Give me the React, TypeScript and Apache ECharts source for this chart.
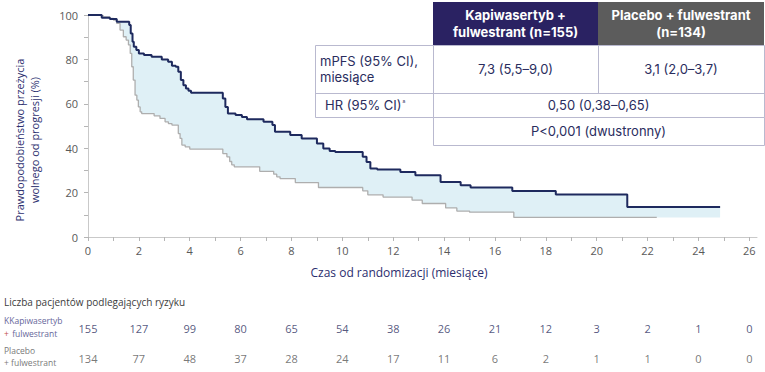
import React, { useEffect, useRef } from "react";
import * as echarts from "echarts";

// ---- data ----
const xLabelValues = [0, 2, 4, 6, 8, 10, 12, 14, 16, 18, 20, 22, 24, 26];
const xTickValues = [0, 1, 2, 3, 4, 5, 6, 7, 8, 9, 10, 11, 12, 13, 14, 15, 16, 17, 18, 19, 20, 21, 22, 23, 24, 25, 26];

// Kaplan-Meier steps [month, % progression-free]
const kapiCurve: [number, number][] = [
  [0, 100], [0.54, 98.8], [0.86, 98.2], [1.13, 97.0], [1.62, 95.5], [1.68, 91.7], [1.75, 88.0], [1.8, 85.7],
  [1.9, 84.2], [2.0, 82.7], [2.2, 82.0], [2.5, 81.2], [2.9, 80.0], [3.15, 78.9], [3.3, 77.1], [3.45, 76.7],
  [3.55, 74.4], [3.65, 70.7], [3.75, 68.4], [3.85, 66.9], [3.95, 65.9], [4.05, 65.0], [5.3, 62.4], [5.4, 58.6],
  [5.5, 55.6], [5.8, 54.9], [6.05, 54.1], [6.25, 53.0], [6.9, 51.9], [7.25, 50.4], [7.35, 47.4], [7.95, 45.9],
  [8.4, 44.4], [9.0, 42.1], [9.25, 39.9], [9.5, 38.7], [9.72, 38.3], [10.8, 36.1], [10.95, 33.8], [11.1, 30.8],
  [11.37, 30.4], [12.28, 29.3], [12.87, 27.8], [13.86, 24.8], [14.65, 23.3], [15.04, 22.3], [16.68, 20.7],
  [18.39, 19.1], [21.2, 13.5], [24.85, 13.5],
];

const placeboCurve: [number, number][] = [
  [0, 100], [0.3, 99.7], [0.6, 99.2], [0.86, 98.5], [1.0, 97.7], [1.13, 96.2], [1.26, 93.2], [1.39, 90.2],
  [1.5, 88.7], [1.59, 86.5], [1.66, 82.7], [1.72, 76.7], [1.78, 70.7], [1.85, 63.9], [1.92, 61.7], [1.98, 58.6],
  [2.05, 56.4], [2.11, 55.6], [2.6, 54.6], [2.83, 53.4], [3.03, 51.9], [3.16, 51.1], [3.3, 50.4], [3.55, 46.6],
  [3.62, 44.4], [3.69, 41.4], [3.82, 40.6], [4.0, 39.6], [5.3, 37.6], [5.46, 36.1], [5.57, 34.0], [5.65, 32.5],
  [5.75, 31.6], [6.75, 29.6], [7.3, 28.3], [7.42, 27.1], [7.55, 26.3], [8.15, 24.5], [9.06, 22.3], [10.8, 20.8],
  [11.0, 19.0], [11.6, 18.0], [12.74, 16.6], [13.14, 15.1], [14.06, 13.1], [14.5, 11.7], [15.0, 11.2],
  [16.74, 8.8], [22.36, 8.8],
];

const riskTimes = [0, 2, 4, 6, 8, 10, 12, 14, 16, 18, 20, 22, 24, 26];
const kapiAtRisk = [155, 127, 99, 80, 65, 54, 38, 26, 21, 12, 3, 2, 1, 0];
const placeboAtRisk = [134, 77, 48, 37, 28, 24, 17, 11, 6, 2, 1, 1, 0, 0];

const tableHeaders = ["Kapiwasertyb +\nfulwestrant (n=155)", "Placebo + fulwestrant\n(n=134)"];
const mpfsLabel = "mPFS (95% CI),\nmiesiące";
const mpfsValues = ["7,3 (5,5–9,0)", "3,1 (2,0–3,7)"];
const hrLabel = "HR (95% CI)";
const hrValue = "0,50 (0,38–0,65)";
const pValue = "P<0,001 (dwustronny)";

// ---- helpers ----
function stepPoints(curve: [number, number][], end: number): number[][] {
  const pts: number[][] = [];
  for (let i = 0; i < curve.length; i++) {
    const [t, s] = curve[i];
    if (t > end) break;
    pts.push([t, s]);
    const nt = i + 1 < curve.length ? Math.min(curve[i + 1][0], end) : end;
    pts.push([nt, s]);
  }
  return pts;
}

const fillEnd = kapiCurve[kapiCurve.length - 1][0];
const fillPolygon = [
  ...stepPoints(kapiCurve, fillEnd),
  ...stepPoints(placeboCurve, fillEnd).reverse(),
];

const NAVY = "#1e2a5e";
const TXT = "#2a2d5e";
const BORDER = "#b9b9cf";
const FONT = "'Open Sans', 'Noto Sans', sans-serif";
const TFONT = "Inter, 'Noto Sans', sans-serif";

export default function App() {
  const ref = useRef<HTMLDivElement>(null);
  useEffect(() => {
    if (!ref.current) return;
    const chart = echarts.init(ref.current, undefined, { renderer: "svg" });

    const tLeft = 315, c1 = 433, c2 = 598, c3 = 764;
    const r0 = 2, r1 = 45, r2 = 93, r3 = 117, r4 = 145;

    const graphic: any[] = [
      { type: "rect", shape: { x: c1, y: r0, width: c2 - c1, height: r1 - r0 }, style: { fill: "#2a2262" } },
      { type: "rect", shape: { x: c2, y: r0, width: c3 - c2, height: r1 - r0 }, style: { fill: "#5c5c5c" } },
      {
        type: "text", x: (c1 + c2) / 2, y: (r0 + r1) / 2,
        style: { text: tableHeaders[0], fill: "#fff", font: `bold 13px ${TFONT}`, align: "center", verticalAlign: "middle", lineHeight: 17 },
      },
      {
        type: "text", x: (c2 + c3) / 2, y: (r0 + r1) / 2,
        style: { text: tableHeaders[1], fill: "#fff", font: `bold 13px ${TFONT}`, align: "center", verticalAlign: "middle", lineHeight: 17 },
      },
      { type: "rect", shape: { x: tLeft + 0.5, y: r1 + 0.5, width: c3 - tLeft, height: r3 - r1 }, style: { fill: "#fff", stroke: BORDER, lineWidth: 1 } },
      { type: "rect", shape: { x: c1 + 0.5, y: r3 + 0.5, width: c3 - c1, height: r4 - r3 }, style: { fill: "#fff", stroke: BORDER, lineWidth: 1 } },
      { type: "line", shape: { x1: tLeft, y1: r2 + 0.5, x2: c3, y2: r2 + 0.5 }, style: { stroke: BORDER, lineWidth: 1 } },
      { type: "line", shape: { x1: c1 + 0.5, y1: r1, x2: c1 + 0.5, y2: r3 }, style: { stroke: BORDER, lineWidth: 1 } },
      { type: "line", shape: { x1: c2 + 0.5, y1: r1, x2: c2 + 0.5, y2: r2 }, style: { stroke: BORDER, lineWidth: 1 } },
      {
        type: "text", x: 320, y: (r1 + r2) / 2,
        style: { text: mpfsLabel, fill: TXT, font: `13px ${TFONT}`, align: "left", verticalAlign: "middle", lineHeight: 16 },
      },
      {
        type: "text", x: (c1 + c2) / 2, y: (r1 + r2) / 2,
        style: { text: mpfsValues[0], fill: TXT, font: `13px ${TFONT}`, align: "center", verticalAlign: "middle" },
      },
      {
        type: "text", x: (c2 + c3) / 2, y: (r1 + r2) / 2,
        style: { text: mpfsValues[1], fill: TXT, font: `13px ${TFONT}`, align: "center", verticalAlign: "middle" },
      },
      {
        type: "text", x: 325, y: (r2 + r3) / 2,
        style: {
          text: `{m|${hrLabel}}{s|a}`, align: "left", verticalAlign: "middle",
          rich: {
            m: { fill: TXT, font: `13px ${TFONT}` },
            s: { fill: TXT, font: `5px ${TFONT}`, padding: [0, 0, 8, 1] },
          },
        },
      },
      {
        type: "text", x: (c1 + c3) / 2, y: (r2 + r3) / 2,
        style: { text: hrValue, fill: TXT, font: `13px ${TFONT}`, align: "center", verticalAlign: "middle" },
      },
      {
        type: "text", x: (c1 + c3) / 2, y: (r3 + r4) / 2,
        style: { text: pValue, fill: TXT, font: `13px ${TFONT}`, align: "center", verticalAlign: "middle" },
      },
      {
        type: "text", x: 27, y: 140, rotation: Math.PI / 2,
        style: {
          text: "Prawdopodobieństwo przeżycia\nwolnego od progresji (%)",
          fill: "#2e3170", font: `11px ${FONT}`, align: "center", verticalAlign: "middle", lineHeight: 15,
        },
      },
      {
        type: "text", x: 399, y: 272,
        style: { text: "Czas od randomizacji (miesiące)", fill: "#2b2d6e", font: `12px ${FONT}`, align: "center", verticalAlign: "middle" },
      },
      {
        type: "text", x: 4, y: 302,
        style: { text: "Liczba pacjentów podlegających ryzyku", fill: "#3c3c3c", font: `10px ${FONT}`, align: "left", verticalAlign: "middle" },
      },
      {
        type: "text", x: 4, y: 320,
        style: { text: "KKapiwasertyb", fill: "#66669a", font: `8.5px ${FONT}`, align: "left", verticalAlign: "middle" },
      },
      {
        type: "text", x: 4, y: 333,
        style: {
          text: "{p|+} {f|fulwestrant}", align: "left", verticalAlign: "middle",
          rich: { p: { fill: "#c0504d", font: `8.5px ${FONT}` }, f: { fill: "#66669a", font: `8.5px ${FONT}` } },
        },
      },
      {
        type: "text", x: 4, y: 350,
        style: { text: "Placebo", fill: "#7a7a7a", font: `8.5px ${FONT}`, align: "left", verticalAlign: "middle" },
      },
      {
        type: "text", x: 4, y: 362,
        style: { text: "+ fulwestrant", fill: "#7a7a7a", font: `8.5px ${FONT}`, align: "left", verticalAlign: "middle" },
      },
    ];

    const option: any = {
      animation: false,
      backgroundColor: "#fff",
      grid: [
        { left: 88, right: 8, top: 15, bottom: 135 },
        { left: 88, right: 8, top: 328, height: 30 },
      ],
      xAxis: [
        {
          type: "value", min: 0, max: 26.3,
          axisLine: { lineStyle: { color: "#c9c9c9", width: 1 } },
          axisTick: { show: true, customValues: xTickValues, length: 4, lineStyle: { color: "#b5b5b5" } },
          axisLabel: { customValues: xLabelValues, color: "#595959", fontSize: 11, fontFamily: FONT, margin: 8 },
          splitLine: { show: false },
        },
        { type: "value", gridIndex: 1, min: 0, max: 26.3, show: false },
      ],
      yAxis: [
        {
          type: "value", min: 0, max: 100, interval: 10,
          axisLine: { show: true, lineStyle: { color: "#c9c9c9", width: 1 } },
          axisTick: { show: true, length: 4, lineStyle: { color: "#b5b5b5" } },
          axisLabel: {
            color: "#595959", fontSize: 11, fontFamily: FONT, margin: 10,
            formatter: (v: number) => (v % 20 === 0 ? String(v) : ""),
          },
          splitLine: { show: false },
        },
        { type: "value", gridIndex: 1, min: 0, max: 1, show: false },
      ],
      series: [
        {
          type: "custom", silent: true, z: 1, data: [0],
          renderItem: (_params: any, api: any) => ({
            type: "polygon",
            shape: { points: fillPolygon.map((p) => api.coord(p)) },
            style: { fill: "#dff0f6", stroke: "none" },
          }),
        },
        {
          type: "line", data: placeboCurve, step: "end", symbol: "none",
          lineStyle: { color: "#aeaeae", width: 1.3 }, z: 3,
        },
        {
          type: "line", data: kapiCurve, step: "end", symbol: "none",
          lineStyle: { color: NAVY, width: 2 }, z: 4,
        },
        {
          type: "scatter", xAxisIndex: 1, yAxisIndex: 1, symbolSize: 1,
          itemStyle: { color: "rgba(0,0,0,0)" },
          data: riskTimes.map((t, i) => [t, 1, kapiAtRisk[i]]),
          label: { show: true, position: "inside", formatter: (p: any) => String(p.value[2]), color: "#2a2d5e", fontSize: 11, fontFamily: FONT },
        },
        {
          type: "scatter", xAxisIndex: 1, yAxisIndex: 1, symbolSize: 1,
          itemStyle: { color: "rgba(0,0,0,0)" },
          data: riskTimes.map((t, i) => [t, 0, placeboAtRisk[i]]),
          label: { show: true, position: "inside", formatter: (p: any) => String(p.value[2]), color: "#555555", fontSize: 11, fontFamily: FONT },
        },
      ],
      graphic,
    };
    chart.setOption(option);
    return () => chart.dispose();
  }, []);
  return <div ref={ref} style={{ position: "fixed", left: 0, top: 0, width: 765, height: 372, background: "#fff" }} />;
}
